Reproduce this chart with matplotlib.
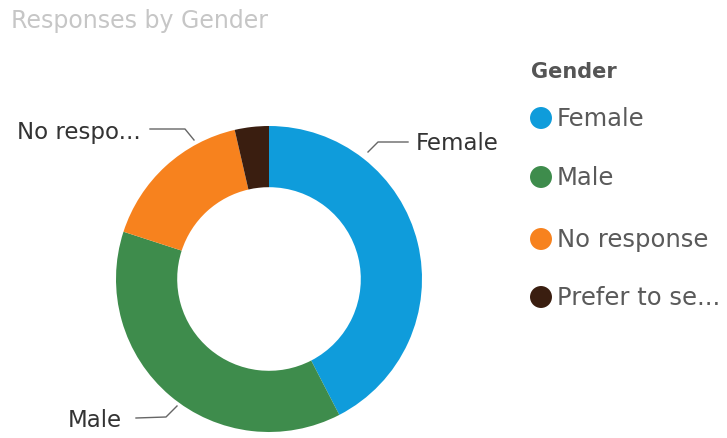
import matplotlib.pyplot as plt
import numpy as np

plt.rcParams['font.family'] = ['DejaVu Sans']

# Survey responses by gender (percent of respondents)
categories = ["Female", "Male", "No response", "Prefer to self-describe"]
shares = [42.4, 37.6, 16.4, 3.6]
colors = ["#0F9CDB", "#3E8C4C", "#F7821E", "#3A1E10"]

W, H = 727, 439
fig = plt.figure(figsize=(W / 100, H / 100), dpi=100)
ax = fig.add_axes([0, 0, 1, 1])


def py(y):
    # pixel rows measured from the top
    return H - y


cx, cy, r_out = 269, py(280), 153
ax.pie(shares, colors=colors, startangle=90, counterclock=False,
       radius=r_out, center=(cx, cy), frame=True,
       wedgeprops=dict(width=r_out * 0.40, edgecolor='none'))
ax.set_xlim(0, W)
ax.set_ylim(0, H)
ax.set_aspect('equal')
ax.axis('off')


def short(s, n):
    return s if len(s) <= n else s[:n] + "..."


# detail labels with leader lines
lab_color = "#333333"
line_color = "#666666"
ax.plot([368, 378, 408], [py(153), py(143), py(143)], color=line_color, lw=1)
ax.text(416, py(144), categories[0], fontsize=16.5, color=lab_color, va='center', ha='left')

ax.plot([194, 185, 150], [py(141), py(130), py(130)], color=line_color, lw=1)
ax.text(141, py(133), short(categories[2], 8), fontsize=16.5, color=lab_color, va='center', ha='right')

ax.plot([177, 166, 136], [py(407), py(418), py(419)], color=line_color, lw=1)
ax.text(122, py(421), categories[1], fontsize=16.5, color=lab_color, va='center', ha='right')

# title
ax.text(11, py(21), "Responses by Gender", fontsize=17, color="#C6C6C6", va='center', ha='left')

# legend
ax.text(531, py(72), "Gender", fontsize=15, color="#555555", fontweight='bold', va='center', ha='left')
leg_rows = [119, 178, 240, 298]
for name, c, yy in zip(categories, colors, leg_rows):
    ax.scatter([541], [py(yy)], s=250, color=c, edgecolors='none')
    ax.text(557, py(yy), short(name, 12), fontsize=17.5, color="#5A5A5A", va='center', ha='left')

fig.savefig("out.png", dpi=100)
